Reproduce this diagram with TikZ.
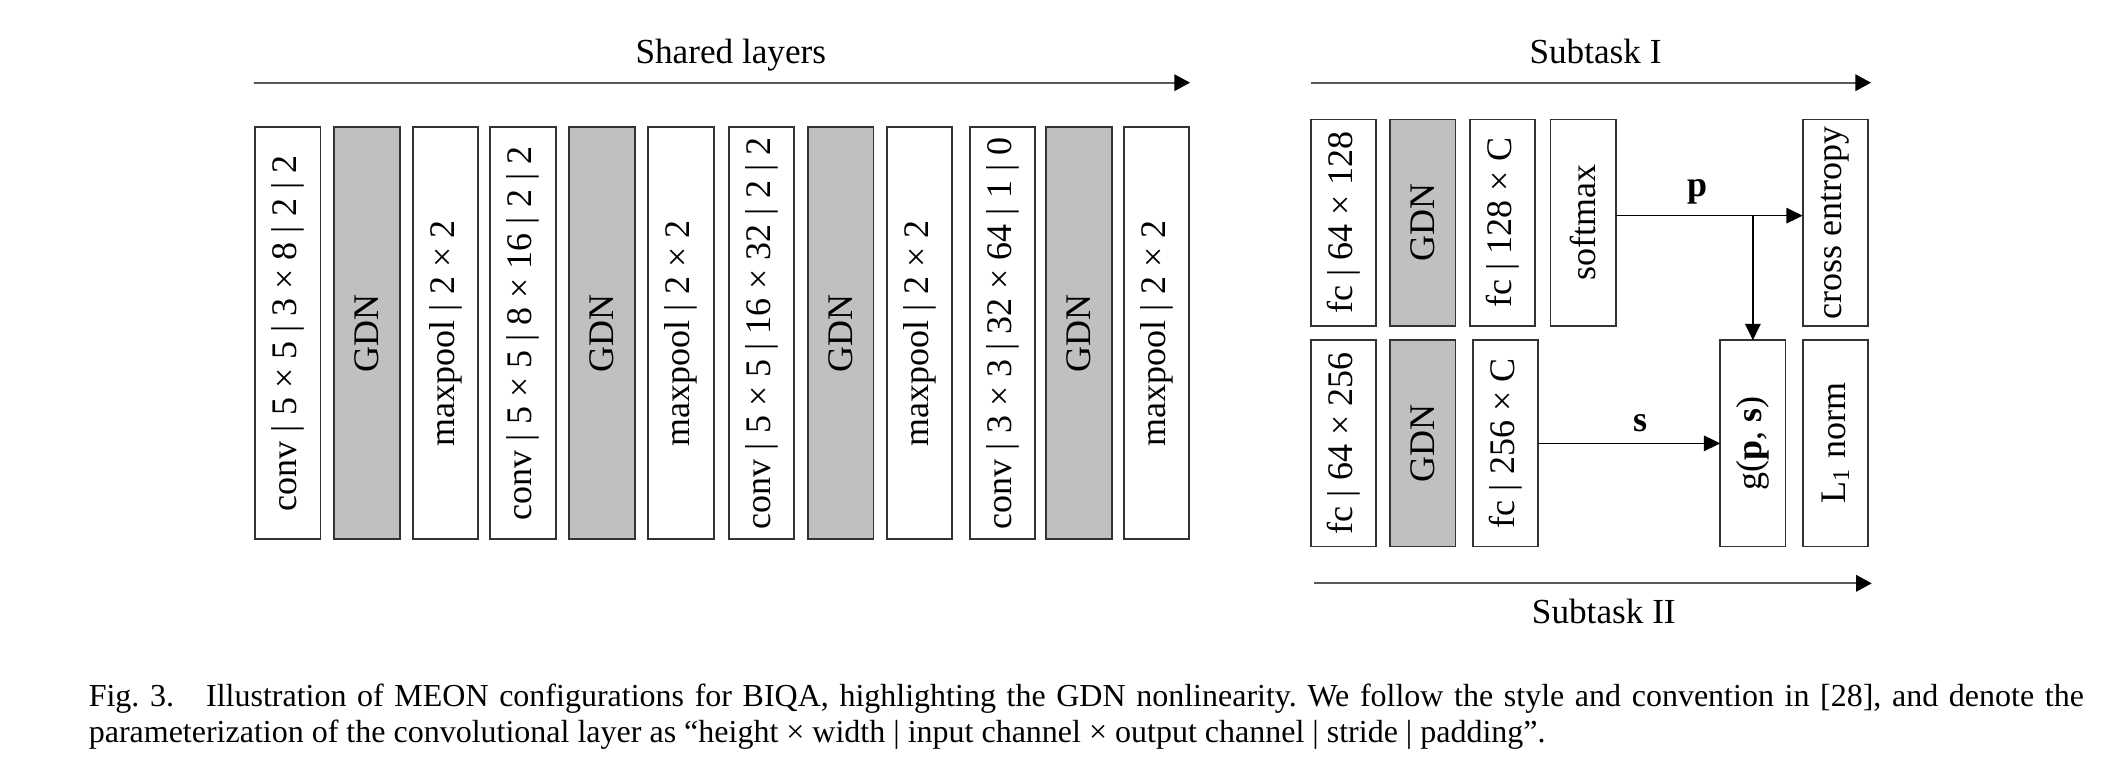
\documentclass[tikz,border=0pt]{standalone}
\usepackage{fontspec}
\setmainfont{Liberation Serif}
\usetikzlibrary{arrows.meta,calc}
\definecolor{gdngray}{RGB}{192,192,192}
\begin{document}
\begin{tikzpicture}[x=0.25pt,y=-0.25pt,
  lay/.style={draw=black!80, line width=0.45pt, fill=white, inner sep=0pt, outer sep=0pt,
    minimum width=16.4pt, minimum height=103pt, font=\fontsize{9}{10}\selectfont},
  gdn/.style={fill=gdngray},
  sub/.style={lay, minimum width=16.3pt, minimum height=51.6pt},
  conn/.style={line width=0.35pt, -{Triangle[length=4.1pt,width=3.9pt]}},
  axis/.style={draw=black!65, line width=0.5pt, -{Triangle[length=3.9pt,width=4.1pt,color=black,fill=black]}},
  lbl/.style={font=\fontsize{8.8}{10}\selectfont, anchor=base, inner sep=0pt},
  vlbl/.style={font=\fontsize{9}{10}\selectfont\bfseries, anchor=base, inner sep=0pt}
]
\useasboundingbox (0,0) rectangle (2126,782);

% ---------- shared layers ----------
\coordinate (sa) at (253.5,82.7);
\coordinate (sb) at (1190,82.7);
\draw[axis] (sa) -- (sb);
\node[lbl] (tshared) at (730.8,63.3) {Shared layers};

\node[lay] (c1) at (287.75,333.3) {\rotatebox{90}{conv | 5 × 5 | 3 × 8 | 2 | 2}};
\node[lay,gdn] (n1) at (367.05,333.3) {\rotatebox{90}{GDN}};
\node[lay] (m1) at (445.45,333.3) {\rotatebox{90}{maxpool | 2 × 2}};
\node[lay] (c2) at (523.05,333.3) {\rotatebox{90}{conv | 5 × 5 | 8 × 16 | 2 | 2}};
\node[lay,gdn] (n2) at (602.05,333.3) {\rotatebox{90}{GDN}};
\node[lay] (m2) at (681.05,333.3) {\rotatebox{90}{maxpool | 2 × 2}};
\node[lay] (c3) at (761.45,333.3) {\rotatebox{90}{conv | 5 × 5 | 16 × 32 | 2 | 2}};
\node[lay,gdn] (n3) at (840.75,333.3) {\rotatebox{90}{GDN}};
\node[lay] (m3) at (919.45,333.3) {\rotatebox{90}{maxpool | 2 × 2}};
\node[lay] (c4) at (1002.45,333.3) {\rotatebox{90}{conv | 3 × 3 | 32 × 64 | 1 | 0}};
\node[lay,gdn] (n4) at (1079.05,333.3) {\rotatebox{90}{GDN}};
\node[lay] (m4) at (1156.45,333.3) {\rotatebox{90}{maxpool | 2 × 2}};

% ---------- subtasks ----------
\coordinate (ta) at (1311,82.7);
\coordinate (tb) at (1871,82.7);
\draw[axis] (ta) -- (tb);
\node[lbl] (tsub1) at (1595.5,63.3) {Subtask I};

\node[sub] (f1) at (1343.75,222.65) {\rotatebox{90}{fc | 64 × 128}};
\node[sub,gdn] (g1) at (1422.9,222.65) {\rotatebox{90}{GDN}};
\node[sub] (f2) at (1502.75,222.65) {\rotatebox{90}{fc | 128 × C}};
\node[sub] (sm) at (1583,222.65) {\rotatebox{90}{softmax}};
\node[sub] (ce) at (1835.3,222.65) {\rotatebox{90}{cross entropy}};

\node[sub] (f3) at (1343.75,443.35) {\rotatebox{90}{fc | 64 × 256}};
\node[sub,gdn] (g2) at (1422.9,443.35) {\rotatebox{90}{GDN}};
\node[sub] (f4) at (1505.5,443.35) {\rotatebox{90}{fc | 256 × C}};
\node[sub] (gp) at (1752.85,443.35) {\rotatebox{90}{g(\textbf{p}, \textbf{s})}};
\node[sub] (l1) at (1835.3,443.35) {\rotatebox{90}{L\textsubscript{1} norm}};

\coordinate (pp) at ([yshift=1.75pt]sm.east);
\draw[conn] (pp) -- (pp -| ce.west);
\draw[conn] (pp -| gp.north) -- (gp.north);
\node[vlbl] (plbl) at (1697,196.7) {p};
\draw[conn] (f4.east) -- (gp.west);
\node[vlbl] (slbl) at (1640,431.7) {s};

\coordinate (ua) at (1313.7,583.3);
\coordinate (ub) at (1871.7,583.3);
\draw[axis] (ua) -- (ub);
\node[lbl] (tsub2) at (1603.8,623.3) {Subtask II};

% ---------- caption ----------
\node[anchor=base west, inner sep=0pt] (cap) at (88,706) {\parbox[t]{498.75pt}{\fontsize{8}{9}\selectfont\frenchspacing
Fig. 3.\hspace{1em}Illustration of MEON configurations for BIQA, highlighting the GDN nonlinearity. We follow the style and convention in [28], and denote the\linebreak
parameterization of the convolutional layer as “height × width | input channel × output channel | stride | padding”.}};
\end{tikzpicture}
\end{document}
